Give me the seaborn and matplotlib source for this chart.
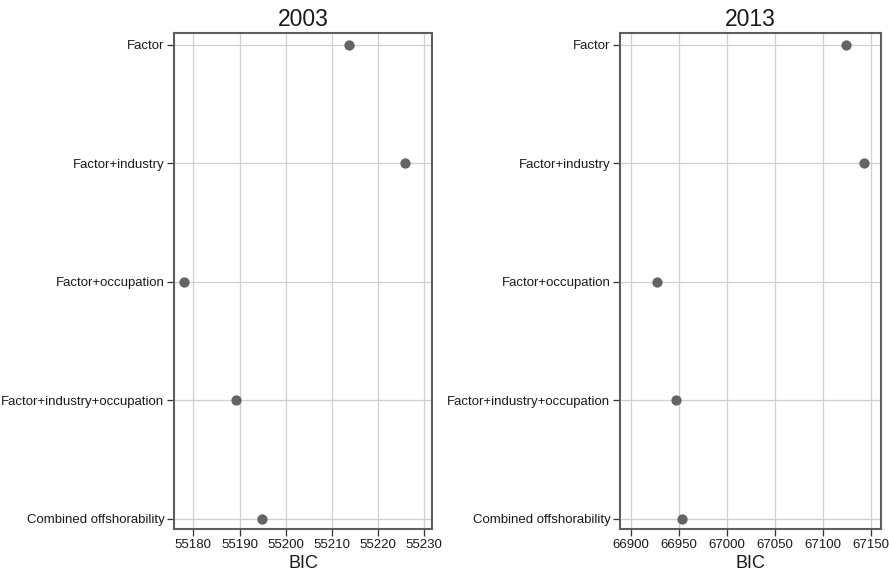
import matplotlib
matplotlib.use("Agg")
import matplotlib.pyplot as plt
import seaborn as sns
import pandas as pd

categories = ["Factor", "Factor+industry", "Factor+occupation",
              "Factor+industry+occupation", "Combined offshorability"]
bic_2003 = [55213.7, 55225.9, 55177.9, 55189.3, 55194.9]
bic_2013 = [67124.3, 67143.0, 66927.5, 66947.0, 66953.6]
years = ["2003", "2013"]
xticks_2003 = [55180, 55190, 55200, 55210, 55220, 55230]
xticks_2013 = [66900, 66950, 67000, 67050, 67100, 67150]

sns.set_theme(style="white")
plt.rcParams["font.family"] = ["Liberation Sans", "DejaVu Sans"]

fig = plt.figure(figsize=(8.89, 5.78), dpi=100)
ax1 = fig.add_axes([0.1957, 0.0848, 0.2902, 0.8581])
ax2 = fig.add_axes([0.6975, 0.0848, 0.2936, 0.8581])

panels = [(ax1, bic_2003, xticks_2003, (55175.8, 55231.7), years[0]),
          (ax2, bic_2013, xticks_2013, (66888.9, 67160.7), years[1])]

for ax, vals, xt, xl, yr in panels:
    df = pd.DataFrame({"model": categories, "BIC": vals})
    sns.stripplot(data=df, x="BIC", y="model", order=categories, jitter=False,
                  color="#646464", size=7.4, linewidth=0, ax=ax, zorder=3)
    ax.set_xlim(*xl)
    ax.set_xticks(xt)
    ax.set_xticklabels([str(v) for v in xt])
    ax.set_ylim(4.085, -0.1)
    ax.grid(True, color="#cfcfcf", linewidth=0.9, zorder=0)
    ax.set_axisbelow(True)
    for s in ax.spines.values():
        s.set_color("#5e5e5e")
        s.set_linewidth(1.5)
        s.set_visible(True)
    ax.tick_params(axis="both", which="both", length=5, width=0.9,
                   color="#333333", labelsize=9.5, labelcolor="#1a1a1a",
                   bottom=True, left=True, pad=2)
    ax.set_ylabel("")
    ax.set_xlabel("BIC", fontsize=13, color="#1a1a1a", labelpad=3)
    ax.set_title(yr, fontsize=16.5, color="#1a1a1a", pad=5)

fig.savefig("out.png", dpi=100)
